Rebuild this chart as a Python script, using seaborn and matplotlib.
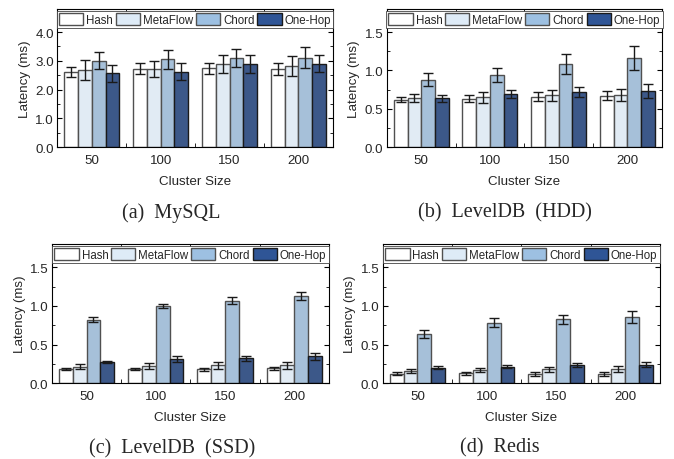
import pandas as pd
import matplotlib.pyplot as plt
import numpy as np
import seaborn as sns
from matplotlib.patches import Patch
from matplotlib.ticker import MultipleLocator

# Cluster sizes and systems
sizes = ["50", "100", "150", "200"]
systems = ["Hash", "MetaFlow", "Chord", "One-Hop"]
colors = ["#ffffff", "#deebf7", "#9dc0e2", "#2f5596"]

# (a) MySQL - mean latency and error per system (rows) and cluster size (cols)
mysql_mean = [[2.61, 2.72, 2.75, 2.71],
              [2.69, 2.72, 2.88, 2.82],
              [3.01, 3.05, 3.11, 3.11],
              [2.57, 2.63, 2.88, 2.90]]
mysql_err = [[0.17, 0.19, 0.19, 0.20],
             [0.34, 0.28, 0.31, 0.34],
             [0.29, 0.32, 0.32, 0.36],
             [0.30, 0.31, 0.31, 0.30]]

# (b) LevelDB (HDD)
hdd_mean = [[0.62, 0.63, 0.66, 0.67],
            [0.645, 0.65, 0.675, 0.68],
            [0.88, 0.94, 1.09, 1.16],
            [0.636, 0.69, 0.72, 0.73]]
hdd_err = [[0.035, 0.045, 0.06, 0.06],
           [0.05, 0.07, 0.07, 0.075],
           [0.085, 0.09, 0.13, 0.16],
           [0.045, 0.055, 0.065, 0.09]]

# (c) LevelDB (SSD)
ssd_mean = [[0.18, 0.187, 0.18, 0.19],
            [0.21, 0.22, 0.23, 0.23],
            [0.82, 1.00, 1.07, 1.13],
            [0.27, 0.31, 0.32, 0.345]]
ssd_err = [[0.01, 0.012, 0.02, 0.02],
           [0.033, 0.04, 0.045, 0.045],
           [0.03, 0.03, 0.04, 0.055],
           [0.015, 0.035, 0.03, 0.04]]

# (d) Redis
redis_mean = [[0.12, 0.125, 0.12, 0.12],
              [0.155, 0.165, 0.178, 0.185],
              [0.635, 0.785, 0.825, 0.855],
              [0.20, 0.215, 0.23, 0.24]]
redis_err = [[0.02, 0.025, 0.025, 0.03],
             [0.025, 0.025, 0.03, 0.035],
             [0.05, 0.06, 0.06, 0.075],
             [0.02, 0.025, 0.025, 0.03]]

panels = [
    ("(a)  MySQL", mysql_mean, mysql_err, 4.8, 1.0),
    ("(b)  LevelDB  (HDD)", hdd_mean, hdd_err, 1.8, 0.5),
    ("(c)  LevelDB  (SSD)", ssd_mean, ssd_err, 1.8, 0.5),
    ("(d)  Redis", redis_mean, redis_err, 1.8, 0.5),
]
# axes rectangles in figure fractions
rects = [
    [0.085, 0.678, 0.409, 0.300],
    [0.574, 0.678, 0.408, 0.300],
    [0.077, 0.165, 0.411, 0.302],
    [0.568, 0.165, 0.411, 0.302],
]
caption_pos = [(0.254, 0.537), (0.749, 0.537), (0.255, 0.024), (0.742, 0.026)]

sns.set_style("ticks")
plt.rcParams['font.family'] = ['Liberation Sans', 'DejaVu Sans']
plt.rcParams['axes.linewidth'] = 0.8

fig = plt.figure(figsize=(6.74, 4.6), dpi=100)

for (title, mean, err, ymax, major), rect, cpos in zip(panels, rects, caption_pos):
    ax = fig.add_axes(rect)
    df = pd.DataFrame({
        "size": np.tile(sizes, len(systems)),
        "system": np.repeat(systems, len(sizes)),
        "latency": np.array(mean).ravel(),
    })
    sns.barplot(data=df, x="size", y="latency", hue="system", order=sizes,
                hue_order=systems, palette=colors, width=0.8, errorbar=None,
                edgecolor="#505050", linewidth=1.0, legend=False, ax=ax)

    # error bars on top of each bar
    bar_groups = list(ax.containers)
    for i, cont in enumerate(bar_groups):
        xs = [p.get_x() + p.get_width() / 2 for p in cont.patches]
        ys = [p.get_height() for p in cont.patches]
        ax.errorbar(xs, ys, yerr=err[i], fmt="none", ecolor="#1a1a1a",
                    elinewidth=1.0, capsize=3.8, capthick=1.0, zorder=5)
        if i == 3:
            for p in cont.patches:
                p.set_edgecolor("#1a1a1a")

    ax.set_xlim(-0.5, 3.5)
    ax.set_ylim(0, ymax)
    ax.yaxis.set_major_locator(MultipleLocator(major))
    ax.yaxis.set_minor_locator(MultipleLocator(major / 2))
    ax.yaxis.set_major_formatter(plt.FormatStrFormatter("%.1f"))
    ax.set_xticks([0.5, 1.5, 2.5], minor=True)
    ax.tick_params(axis="both", which="both", direction="in", top=True,
                   right=True, labelsize=9.6, color="black")
    ax.tick_params(axis="x", which="major", length=0, pad=5)
    ax.tick_params(axis="x", which="minor", length=3)
    ax.tick_params(axis="y", which="major", length=3.5, pad=2.5)
    ax.tick_params(axis="y", which="minor", length=2)
    for s in ax.spines.values():
        s.set_visible(True)
        s.set_color("black")
    ax.set_xlabel("Cluster Size", fontsize=9.6, labelpad=6.5)
    ax.set_ylabel("Latency (ms)", fontsize=9.6, labelpad=3)

    handles = [Patch(facecolor=c, edgecolor="#505050" if k < 3 else "#1a1a1a",
                     linewidth=1.0, label=s)
               for k, (c, s) in enumerate(zip(colors, systems))]
    leg = ax.legend(handles=handles, loc="upper center", ncol=4, fontsize=8.3,
                    frameon=True, fancybox=False, edgecolor="#444444",
                    handlelength=2.1, handleheight=1.2, handletextpad=0.25,
                    columnspacing=0.25, borderpad=0.2, borderaxespad=0.15,
                    framealpha=1)
    leg.get_frame().set_linewidth(0.6)

    fig.text(cpos[0], cpos[1], title, ha="center", va="center",
             fontsize=14.5, family="Liberation Serif")

fig.savefig("out.png", dpi=100)
